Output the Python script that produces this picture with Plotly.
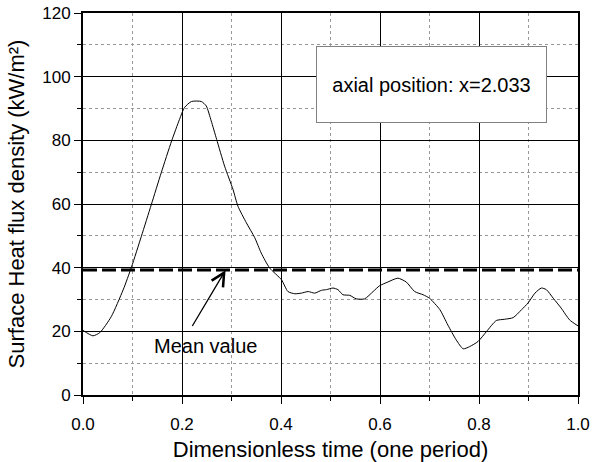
import plotly.graph_objects as go

# Dimensionless time (one period)
time = [0.000, 0.020, 0.034, 0.057, 0.081, 0.098, 0.118, 0.138, 0.158, 0.179,
        0.195, 0.205, 0.219, 0.239, 0.249, 0.259, 0.270, 0.286, 0.303, 0.313,
        0.330, 0.347, 0.360, 0.377, 0.401, 0.414, 0.428, 0.441, 0.455, 0.468,
        0.482, 0.492, 0.505, 0.515, 0.525, 0.539, 0.552, 0.569, 0.586, 0.599,
        0.616, 0.636, 0.653, 0.670, 0.687, 0.700, 0.721, 0.737, 0.754, 0.768,
        0.781, 0.798, 0.815, 0.835, 0.852, 0.869, 0.886, 0.899, 0.913, 0.926,
        0.936, 0.950, 0.966, 0.983, 1.000]
# Surface heat flux density (kW/m^2)
heat_flux = [20.3, 18.6, 19.6, 24.6, 33.0, 40.2, 49.9, 59.8, 69.8, 79.8,
             86.6, 90.3, 92.2, 92.2, 90.8, 86.1, 80.3, 71.9, 64.6, 59.3,
             54.1, 49.4, 44.6, 39.9, 36.2, 32.5, 31.8, 32.0, 32.5, 32.0,
             32.9, 33.1, 33.6, 33.1, 31.5, 31.3, 30.2, 30.2, 32.5, 34.3,
             35.5, 36.7, 35.5, 32.5, 31.5, 30.4, 26.8, 22.0, 17.3, 14.5,
             15.2, 16.8, 19.9, 23.4, 23.8, 24.3, 26.8, 28.9, 32.0, 33.6,
             33.1, 30.4, 27.3, 23.6, 21.7]
mean_value = 39.3

x_ticks = [0.0, 0.2, 0.4, 0.6, 0.8, 1.0]
x_labels = ["0.0", "0.2", "0.4", "0.6", "0.8", "1.0"]
y_ticks = [0, 20, 40, 60, 80, 100, 120]

FONT = "Arial, Liberation Sans, sans-serif"

fig = go.Figure()
fig.add_trace(go.Scatter(x=time, y=heat_flux, mode="lines",
                         line=dict(color="black", width=1, shape="spline", smoothing=0.6),
                         showlegend=False, hoverinfo="skip"))
fig.add_trace(go.Scatter(x=[0, 1], y=[mean_value, mean_value], mode="lines",
                         line=dict(color="black", width=3, dash="14px,5px"),
                         showlegend=False, hoverinfo="skip"))

axis_common = dict(
    showline=True, linecolor="black", linewidth=2, mirror=True,
    ticks="outside", ticklen=7, tickwidth=1, tickcolor="black",
    showgrid=True, gridcolor="black", gridwidth=1,
    zeroline=False, automargin=False,
    tickfont=dict(family=FONT, size=17, color="black"),
)

fig.update_xaxes(range=[0, 1], tickvals=x_ticks, ticktext=x_labels,
                 ticklabelstandoff=6,
                 minor=dict(dtick=0.1, ticks="outside", ticklen=4, tickcolor="black",
                            showgrid=True, gridcolor="#999999", griddash="dot", gridwidth=1),
                 title=dict(text="Dimensionless time (one period)",
                            font=dict(family=FONT, size=22, color="black"), standoff=14),
                 **axis_common)
fig.update_yaxes(range=[0, 120], tickvals=y_ticks,
                 minor=dict(dtick=10, ticks="outside", ticklen=4, tickcolor="black",
                            showgrid=True, gridcolor="#999999", griddash="dot", gridwidth=1),
                 title=dict(text="Surface Heat flux density (kW/m²)",
                            font=dict(family=FONT, size=22, color="black"), standoff=12),
                 **axis_common)

fig.add_annotation(x=0.705, y=97.6, xref="x", yref="y",
                   text="axial position: x=2.033", showarrow=False,
                   font=dict(family=FONT, size=20, color="black"),
                   bgcolor="white", bordercolor="#808080", borderwidth=1,
                   width=227, height=73, align="center", valign="middle")
fig.add_annotation(x=0.248, y=15.4, xref="x", yref="y",
                   text="Mean value", showarrow=False,
                   font=dict(family=FONT, size=20, color="black"))
fig.add_annotation(x=0.288, y=39.2, ax=0.219, ay=21.2,
                   xref="x", yref="y", axref="x", ayref="y",
                   text="", showarrow=True, arrowhead=5, arrowsize=2,
                   arrowwidth=1.3, arrowcolor="black")

fig.update_layout(width=595, height=462,
                  margin=dict(l=83, r=17, t=13, b=67),
                  paper_bgcolor="white", plot_bgcolor="white",
                  font=dict(family=FONT, color="black"))

fig.write_html("out.html")
